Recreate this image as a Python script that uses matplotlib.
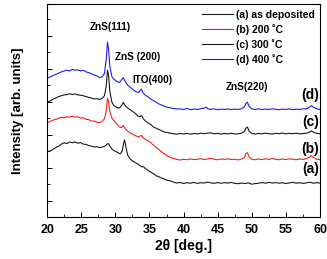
import matplotlib

matplotlib.use("Agg")
import matplotlib.pyplot as plt
import numpy as np
from matplotlib.ticker import MultipleLocator, FixedLocator

plt.rcParams.update({
    "font.family": ["Liberation Sans", "DejaVu Sans"],
    "font.weight": "bold",
    "axes.linewidth": 0.8,
})

# XRD patterns, (2theta, intensity offset units)
pat_a = [(20.0, 3.95), (20.5, 4.02), (20.9, 4.1), (21.3, 4.22), (21.7, 4.3), (22.1, 4.42),
         (22.5, 4.5), (22.9, 4.45), (23.3, 4.55), (23.7, 4.5), (24.1, 4.55), (24.5, 4.47),
         (24.9, 4.52), (25.3, 4.42), (25.7, 4.4), (26.1, 4.33), (26.5, 4.3), (26.9, 4.24),
         (27.3, 4.27), (27.7, 4.2), (28.1, 4.24), (28.5, 4.3), (28.8, 4.42), (29.0, 4.45),
         (29.2, 4.3), (29.5, 4.12), (29.9, 4.0), (30.3, 3.92), (30.7, 3.82), (31.0, 4.0),
         (31.2, 4.45), (31.35, 4.68), (31.55, 4.25), (31.8, 3.75), (32.2, 3.5), (32.6, 3.38),
         (33.0, 3.28), (33.4, 3.18), (33.8, 3.05), (34.1, 3.05), (34.4, 2.95), (34.8, 2.82),
         (35.2, 2.72), (35.6, 2.62), (36.0, 2.5), (36.4, 2.44), (36.8, 2.36), (37.2, 2.3),
         (37.6, 2.22), (38.0, 2.2), (38.5, 2.12), (39.0, 2.06), (39.5, 2.1), (40.0, 2.03),
         (40.5, 2.08), (41.0, 2.05), (41.5, 2.1), (42.0, 2.04), (42.5, 2.08), (43.0, 2.06),
         (43.5, 2.12), (44.0, 2.07), (44.5, 2.04), (45.0, 2.09), (45.5, 2.05), (46.0, 2.08),
         (46.5, 2.06), (47.0, 2.1), (47.5, 2.04), (48.0, 2.02), (48.5, 2.06), (49.0, 2.03),
         (49.5, 2.07), (50.0, 1.99), (50.5, 2.03), (51.0, 2.05), (51.5, 2.09), (52.0, 2.05),
         (52.5, 2.1), (53.0, 2.06), (53.5, 2.09), (54.0, 2.05), (54.5, 2.08), (55.0, 2.03),
         (55.5, 2.07), (56.0, 2.1), (56.5, 2.05), (57.0, 2.08), (57.5, 2.04), (58.0, 2.07),
         (58.5, 2.11), (59.0, 2.05), (59.5, 2.08), (60.0, 2.06)]

pat_b = [(20.0, 5.72), (20.5, 5.8), (20.9, 5.88), (21.3, 5.92), (21.7, 5.98), (22.1, 6.05),
         (22.5, 6.0), (22.9, 6.08), (23.3, 6.05), (23.7, 6.12), (24.1, 6.05), (24.5, 6.08),
         (24.9, 6.0), (25.3, 6.02), (25.7, 5.92), (26.1, 5.9), (26.5, 5.82), (26.9, 5.8),
         (27.3, 5.75), (27.7, 5.72), (28.1, 5.8), (28.4, 5.95), (28.65, 6.4), (28.85, 7.2),
         (29.0, 7.0), (29.2, 6.4), (29.5, 6.0), (29.8, 5.85), (30.2, 5.65), (30.6, 5.45),
         (30.9, 5.42), (31.15, 5.55), (31.4, 5.38), (31.8, 5.2), (32.2, 5.1), (32.6, 5.0),
         (33.0, 4.92), (33.4, 4.85), (33.8, 4.95), (34.1, 4.8), (34.4, 4.7), (34.8, 4.62),
         (35.2, 4.5), (35.6, 4.35), (36.0, 4.22), (36.4, 4.08), (36.8, 3.95), (37.2, 3.82),
         (37.6, 3.7), (38.0, 3.62), (38.5, 3.55), (39.0, 3.5), (39.5, 3.45), (40.0, 3.5),
         (40.5, 3.47), (41.0, 3.52), (41.5, 3.48), (42.0, 3.5), (42.5, 3.54), (43.0, 3.48),
         (43.5, 3.52), (44.0, 3.56), (44.5, 3.5), (45.0, 3.47), (45.5, 3.52), (46.0, 3.49),
         (46.5, 3.53), (47.0, 3.48), (47.5, 3.5), (48.0, 3.46), (48.5, 3.52), (48.9, 3.62),
         (49.15, 3.85), (49.35, 3.9), (49.6, 3.65), (50.0, 3.5), (50.5, 3.47), (51.0, 3.52),
         (51.5, 3.48), (52.0, 3.53), (52.5, 3.49), (53.0, 3.55), (53.5, 3.5), (54.0, 3.47),
         (54.5, 3.52), (55.0, 3.48), (55.5, 3.53), (56.0, 3.5), (56.5, 3.47), (57.0, 3.52),
         (57.5, 3.49), (58.0, 3.55), (58.4, 3.62), (58.7, 3.72), (59.0, 3.62), (59.5, 3.5),
         (60.0, 3.47)]

pat_c = [(20.0, 6.95), (20.5, 7.05), (20.9, 7.15), (21.3, 7.22), (21.7, 7.3), (22.1, 7.35),
         (22.5, 7.4), (22.9, 7.42), (23.3, 7.47), (23.7, 7.42), (24.1, 7.46), (24.5, 7.4),
         (24.9, 7.38), (25.3, 7.35), (25.7, 7.3), (26.1, 7.25), (26.5, 7.22), (26.9, 7.15),
         (27.3, 7.18), (27.7, 7.12), (28.1, 7.2), (28.4, 7.35), (28.65, 7.9), (28.85, 8.9),
         (29.0, 8.6), (29.2, 7.6), (29.5, 6.95), (29.8, 6.75), (30.2, 6.65), (30.6, 6.6),
         (30.9, 6.75), (31.15, 6.95), (31.4, 6.78), (31.8, 6.6), (32.2, 6.5), (32.6, 6.38),
         (33.0, 6.25), (33.3, 6.12), (33.6, 6.08), (33.85, 6.15), (34.1, 5.95), (34.4, 5.82),
         (34.8, 5.7), (35.2, 5.6), (35.6, 5.45), (36.0, 5.38), (36.4, 5.3), (36.8, 5.22),
         (37.2, 5.15), (37.6, 5.12), (38.0, 5.08), (38.5, 5.05), (39.0, 5.02), (39.5, 5.06),
         (40.0, 5.03), (40.5, 5.07), (41.0, 5.02), (41.5, 5.06), (42.0, 5.04), (42.5, 5.08),
         (43.0, 5.05), (43.5, 5.09), (44.0, 5.1), (44.5, 5.04), (45.0, 5.07), (45.5, 5.03),
         (46.0, 5.06), (46.5, 5.04), (47.0, 5.08), (47.5, 5.03), (48.0, 5.05), (48.5, 5.08),
         (48.9, 5.18), (49.15, 5.4), (49.35, 5.45), (49.6, 5.2), (50.0, 5.06), (50.5, 5.03),
         (51.0, 5.07), (51.5, 5.04), (52.0, 5.08), (52.5, 5.05), (53.0, 5.03), (53.5, 5.07),
         (54.0, 5.05), (54.5, 5.09), (55.0, 5.04), (55.5, 5.07), (56.0, 5.05), (56.5, 5.08),
         (57.0, 5.04), (57.5, 5.06), (58.0, 5.08), (58.4, 5.14), (58.7, 5.22), (59.0, 5.15),
         (59.5, 5.07), (60.0, 5.04)]

pat_d = [(20.0, 8.4), (20.5, 8.5), (20.9, 8.58), (21.3, 8.65), (21.7, 8.72), (22.1, 8.8),
         (22.5, 8.85), (22.9, 8.9), (23.3, 8.85), (23.7, 8.95), (24.1, 8.9), (24.5, 8.92),
         (24.9, 8.85), (25.3, 8.9), (25.7, 8.8), (26.1, 8.75), (26.5, 8.68), (26.9, 8.6),
         (27.3, 8.55), (27.7, 8.45), (28.1, 8.5), (28.4, 8.7), (28.65, 9.5), (28.85, 10.6),
         (29.0, 10.2), (29.2, 9.1), (29.5, 8.5), (29.8, 8.35), (30.2, 8.22), (30.6, 8.15),
         (30.9, 8.3), (31.15, 8.45), (31.4, 8.25), (31.8, 8.0), (32.2, 7.85), (32.6, 7.72),
         (33.0, 7.6), (33.4, 7.55), (33.8, 7.75), (34.1, 7.5), (34.4, 7.38), (34.8, 7.28),
         (35.2, 7.15), (35.6, 7.05), (36.0, 6.95), (36.4, 6.85), (36.8, 6.78), (37.2, 6.72),
         (37.6, 6.65), (38.0, 6.62), (38.5, 6.58), (39.0, 6.55), (39.5, 6.55), (40.0, 6.52),
         (40.5, 6.58), (41.0, 6.5), (41.5, 6.54), (42.0, 6.52), (42.5, 6.56), (43.0, 6.6),
         (43.3, 6.66), (43.6, 6.55), (44.0, 6.52), (44.5, 6.56), (45.0, 6.5), (45.5, 6.54),
         (46.0, 6.52), (46.5, 6.55), (47.0, 6.51), (47.5, 6.54), (48.0, 6.52), (48.5, 6.56),
         (48.9, 6.68), (49.15, 6.9), (49.35, 6.95), (49.6, 6.7), (50.0, 6.55), (50.5, 6.52),
         (51.0, 6.56), (51.5, 6.51), (52.0, 6.54), (52.5, 6.52), (53.0, 6.56), (53.5, 6.53),
         (54.0, 6.5), (54.5, 6.54), (55.0, 6.52), (55.5, 6.55), (56.0, 6.51), (56.5, 6.54),
         (57.0, 6.52), (57.5, 6.55), (58.0, 6.56), (58.4, 6.65), (58.7, 6.75), (59.0, 6.66),
         (59.5, 6.55), (60.0, 6.52)]

legend_labels = ["(a) as deposited", "(b) 200 \u02daC", "(c) 300 \u02daC", "(d) 400 \u02daC"]
curve_tags = ["(a)", "(b)", "(c)", "(d)"]
tag_y = [2.9, 4.1, 5.75, 7.4]
peak_names = ["ZnS(111)", "ZnS (200)", "ITO(400)", "ZnS(220)"]
peak_pos = [(29.2, 11.5), (33.3, 9.7), (35.5, 8.3), (49.3, 7.85)]

colors = ["#1a1a1a", "#ff1a1a", "#1a1a1a", "#1a1aff"]

fig = plt.figure(figsize=(3.27, 2.59), dpi=100)
ax = fig.add_axes([0.144, 0.162, 0.835, 0.822])

for pts, col, lab in zip([pat_a, pat_b, pat_c, pat_d], colors, legend_labels):
    arr = np.array(pts)
    ax.plot(arr[:, 0], arr[:, 1], color=col, lw=0.8, label=lab)

for name, (px, py) in zip(peak_names, peak_pos):
    ax.text(px, py, name, ha="center", va="center", fontsize=7.2, fontweight="bold")
for tag, ty in zip(curve_tags, tag_y):
    ax.text(59.8, ty, tag, ha="right", va="center", fontsize=10, fontweight="bold")

ax.set_xlim(20, 60)
ax.set_ylim(0, 12.9)
ax.xaxis.set_major_locator(MultipleLocator(5))
ax.xaxis.set_minor_locator(MultipleLocator(2.5))
ax.yaxis.set_major_locator(FixedLocator(np.arange(1, 12, 2)))
ax.yaxis.set_minor_locator(FixedLocator(np.arange(2, 13, 2)))
ax.tick_params(which="both", direction="in", top=False, right=False)
ax.tick_params(which="major", length=3.5, width=0.7, labelsize=9, pad=5)
ax.tick_params(which="minor", length=2, width=0.6)
ax.tick_params(axis="y", labelleft=False)
for t in ax.get_xticklabels():
    t.set_fontweight("bold")

ax.set_xlabel("2\u03b8 [deg.]", fontsize=10, fontweight="bold", labelpad=2)
ax.set_ylabel("Intensity [arb. units]", fontsize=9.5, fontweight="bold", labelpad=13)

ax.legend(loc="upper right", frameon=False, fontsize=7.5, handlelength=3.0,
          handletextpad=0.2, labelspacing=0.4, borderaxespad=0.15)

fig.savefig("out.png", dpi=100)
